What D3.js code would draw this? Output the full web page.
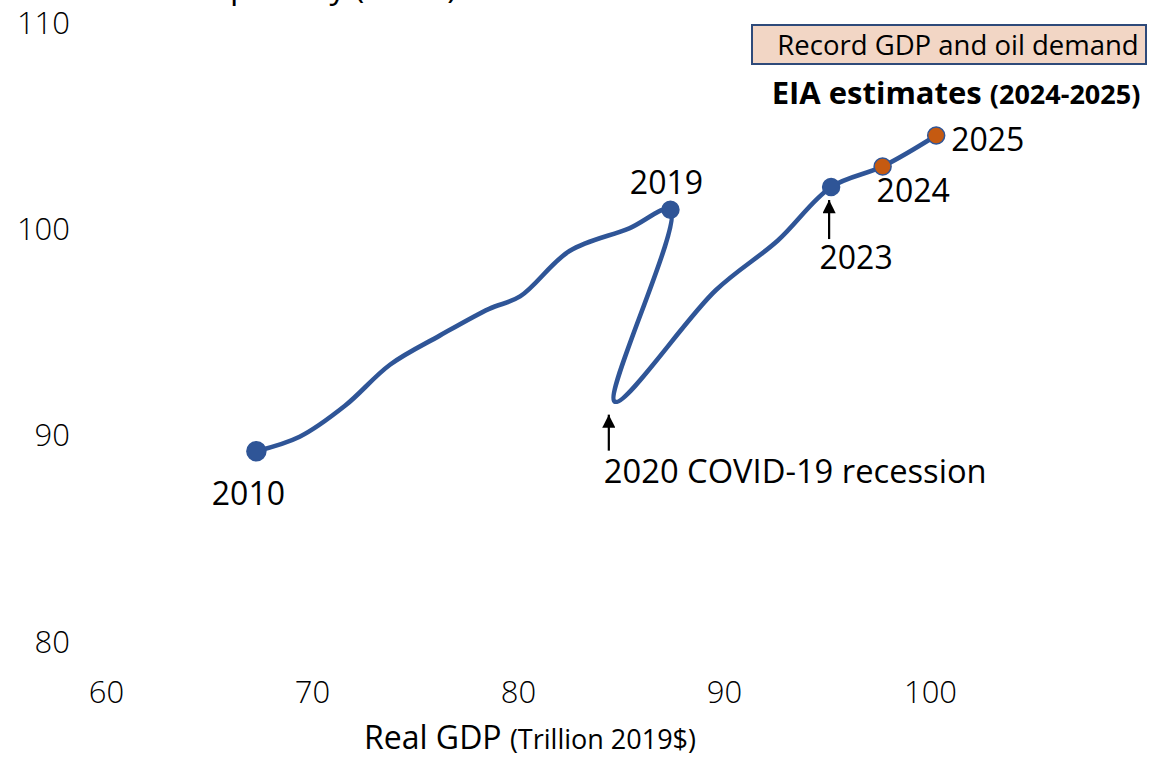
<!DOCTYPE html>
<html>
<head>
<meta charset="utf-8">
<script src="https://cdn.jsdelivr.net/npm/d3@7"></script>
<style>
  html, body { margin: 0; padding: 0; background: #fff; }
  svg { display: block; font-family: "Open Sans", "Noto Sans", sans-serif; }
</style>
</head>
<body>
<svg id="chart" width="1160" height="759"></svg>
<script>
// World real GDP (trillion 2019$) vs. oil demand (mb/d), 2010-2025
const years = [2010, 2011, 2012, 2013, 2014, 2015, 2016, 2017, 2018, 2019, 2020, 2021, 2022, 2023, 2024, 2025];
const gdp   = [67.3, 69.4, 71.6, 73.8, 76.2, 78.6, 80.1, 82.5, 85.4, 87.4, 84.7, 89.6, 92.6, 95.2, 97.7, 100.3];
const oil   = [89.2, 89.9, 91.4, 93.4, 94.8, 96.1, 96.7, 98.9, 100.0, 100.9, 91.6, 97.0, 99.4, 102.0, 103.0, 104.5];
const estimateYears = [2024, 2025];

const xTicks = [60, 70, 80, 90, 100];
const yTicks = [80, 90, 100, 110];

const svg = d3.select("#chart");

const x = d3.scaleLinear().domain([60, 100]).range([106, 930]);
const y = d3.scaleLinear().domain([80, 110]).range([641, 22]);

const blue = "#2F5597";
const orange = "#C55A11";

const pts = years.map((yr, i) => ({ year: yr, gdp: gdp[i], oil: oil[i] }));
const byYear = Object.fromEntries(pts.map(p => [p.year, p]));

// arrow head marker
svg.append("defs").append("marker")
  .attr("id", "arrow")
  .attr("viewBox", "0 0 10 10")
  .attr("refX", 10).attr("refY", 5)
  .attr("markerWidth", 6.5).attr("markerHeight", 6)
  .attr("markerUnits", "strokeWidth")
  .attr("orient", "auto")
  .append("path").attr("d", "M0,0 L10,5 L0,10 Z").attr("fill", "#000");

// y-axis title (sits above the plot, mostly outside the frame)
svg.append("text")
  .attr("x", 457).attr("y", -2)
  .attr("text-anchor", "end")
  .attr("font-size", 33)
  .attr("fill", "#000")
  .text("Oil demand per day (mb/d)");

// y axis tick labels
const yAxis = d3.axisLeft(y).tickValues(yTicks).tickSize(0).tickPadding(0);
svg.append("g")
  .attr("transform", "translate(70,0)")
  .call(yAxis)
  .call(g => g.select(".domain").remove())
  .call(g => g.selectAll("text")
    .attr("font-family", "'Open Sans', sans-serif")
    .attr("font-size", 31).attr("font-weight", 300)
    .attr("fill", "#000").attr("dy", "0.36em"));

// x axis tick labels
const xAxis = d3.axisBottom(x).tickValues(xTicks).tickSize(0).tickPadding(0);
svg.append("g")
  .attr("transform", "translate(0,703)")
  .call(xAxis)
  .call(g => g.select(".domain").remove())
  .call(g => g.selectAll("text")
    .attr("font-family", "'Open Sans', sans-serif")
    .attr("font-size", 31).attr("font-weight", 300)
    .attr("fill", "#000").attr("dy", 0));

// x axis title
const xt = svg.append("text")
  .attr("x", 530).attr("y", 749)
  .attr("text-anchor", "middle")
  .attr("fill", "#000");
xt.append("tspan").attr("font-size", 32).text("Real GDP ");
xt.append("tspan").attr("font-size", 27).text("(Trillion 2019$)");

// the GDP / oil path
const line = d3.line()
  .x(d => x(d.gdp)).y(d => y(d.oil))
  .curve(d3.curveCatmullRom.alpha(0.5));

svg.append("path")
  .datum(pts)
  .attr("d", line)
  .attr("fill", "none")
  .attr("stroke", blue)
  .attr("stroke-width", 4.6)
  .attr("stroke-linejoin", "round")
  .attr("stroke-linecap", "round");

// highlighted years
const dotYears = [2010, 2019, 2023, 2024, 2025];
svg.selectAll("circle.dot")
  .data(dotYears.map(yr => byYear[yr]))
  .join("circle")
  .attr("class", "dot")
  .attr("cx", d => x(d.gdp)).attr("cy", d => y(d.oil))
  .attr("r", d => d.year === 2010 ? 9.5 : 8.5)
  .attr("fill", d => estimateYears.includes(d.year) ? orange : blue)
  .attr("stroke", blue)
  .attr("stroke-width", 1.5);

// year labels
const label = (txt, px, py, anchor, size) => svg.append("text")
  .attr("x", px).attr("y", py)
  .attr("text-anchor", anchor)
  .attr("font-size", size || 32)
  .attr("fill", "#000")
  .text(txt);

const p2010 = byYear[2010], p2019 = byYear[2019], p2020 = byYear[2020],
      p2023 = byYear[2023], p2024 = byYear[2024], p2025 = byYear[2025];

label("2010", x(p2010.gdp) - 8, y(p2010.oil) + 54, "middle");
label("2019", x(p2019.gdp) - 4, y(p2019.oil) - 16, "middle");
label("2024", x(p2024.gdp) - 6, y(p2024.oil) + 36, "start");
label("2025", x(p2025.gdp) + 15, y(p2025.oil) + 16, "start");
label("2023", x(p2023.gdp) + 25, y(p2023.oil) + 82, "middle");
label("2020 COVID-19 recession", x(p2020.gdp) - 11, y(p2020.oil) + 81, "start", 32.7);

// arrows pointing at the recession trough and at 2023
svg.append("line")
  .attr("x1", x(p2020.gdp) - 6).attr("y1", y(p2020.oil) + 49)
  .attr("x2", x(p2020.gdp) - 6).attr("y2", y(p2020.oil) + 13)
  .attr("stroke", "#000").attr("stroke-width", 2.2)
  .attr("marker-end", "url(#arrow)");
svg.append("line")
  .attr("x1", x(p2023.gdp) - 2).attr("y1", y(p2023.oil) + 52)
  .attr("x2", x(p2023.gdp) - 2).attr("y2", y(p2023.oil) + 13)
  .attr("stroke", "#000").attr("stroke-width", 2.2)
  .attr("marker-end", "url(#arrow)");

// callout box
svg.append("rect")
  .attr("x", 752).attr("y", 25)
  .attr("width", 394).attr("height", 39)
  .attr("fill", "#F2D6C5")
  .attr("stroke", "#2E4A7A")
  .attr("stroke-width", 2);
svg.append("text")
  .attr("x", 958).attr("y", 55)
  .attr("text-anchor", "middle")
  .attr("font-size", 27.5)
  .attr("fill", "#000")
  .text("Record GDP and oil demand");

const est = svg.append("text")
  .attr("x", 956).attr("y", 104)
  .attr("text-anchor", "middle")
  .attr("font-weight", 700)
  .attr("fill", "#000");
est.append("tspan").attr("font-size", 31).text("EIA estimates ");
est.append("tspan").attr("font-size", 27).text("(2024-2025)");
</script>
</body>
</html>
